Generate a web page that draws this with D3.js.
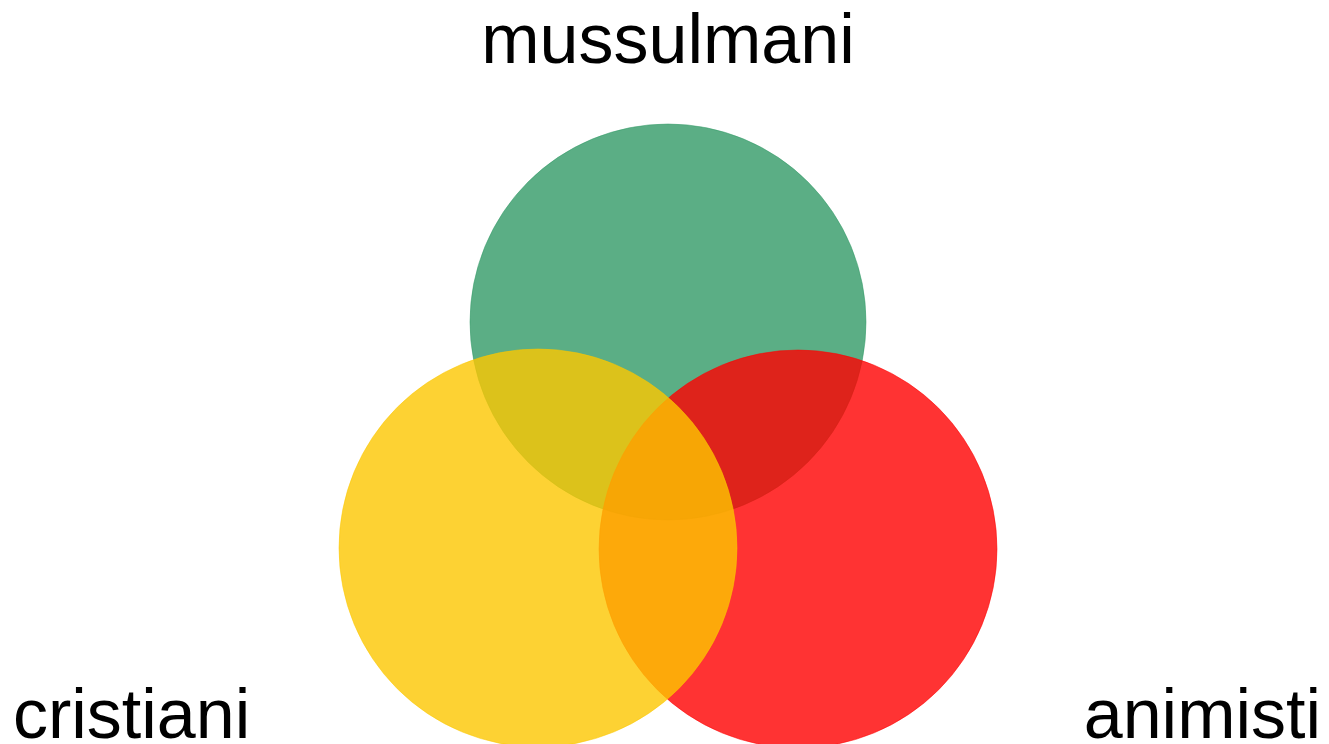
<!DOCTYPE html>
<html>
<head>
<meta charset="utf-8">
<script src="https://cdn.jsdelivr.net/npm/d3@7"></script>
<style>
  html, body { margin: 0; padding: 0; background: #fff; }
  svg { display: block; }
</style>
</head>
<body>
<div class="chart"></div>
<script>
// venn sets (centres and radius in chart units, 1 unit = 100px)
const setNames = ["mussulmani", "animisti", "cristiani"];
const setX = [0, 1.30, -1.30];
const setY = [3.22, 5.49, 5.48];
const setR = [1.98, 1.99, 1.99];
const setColors = ["#329a66", "#ff0000", "#fcc700"];

const w = 1329, h = 744;

// scales
const xScale = d3.scaleLinear().domain([-6.68, 6.61]).range([0, w]);
const yScale = d3.scaleLinear().domain([0, 7.44]).range([0, h]);
const rScale = d3.scaleLinear().domain([0, 1]).range([0, 100]);

const svg = d3.select("div.chart")
    .append("svg")
    .attr("width", w)
    .attr("height", h);

// circles: green first, then red, yellow on top
svg.selectAll("circle")
    .data(setNames)
    .enter()
    .append("circle")
    .attr("cx", (d, i) => xScale(setX[i]))
    .attr("cy", (d, i) => yScale(setY[i]))
    .attr("r", (d, i) => rScale(setR[i]))
    .attr("fill", (d, i) => setColors[i])
    .attr("fill-opacity", 0.8)
    .attr("stroke", (d, i) => setColors[i])
    .attr("stroke-opacity", 0.5)
    .attr("stroke-width", 1);

// labels
const labels = svg.append("g")
    .attr("font-family", "Liberation Sans, Arial, sans-serif")
    .attr("font-size", 70)
    .attr("fill", "#000");

labels.append("text")
    .attr("x", xScale(setX[0]))
    .attr("y", 63)
    .attr("text-anchor", "middle")
    .text(setNames[0]);

labels.append("text")
    .attr("x", 13)
    .attr("y", 738)
    .attr("text-anchor", "start")
    .text(setNames[2]);

labels.append("text")
    .attr("x", 1321)
    .attr("y", 738)
    .attr("text-anchor", "end")
    .text(setNames[1]);
</script>
</body>
</html>
